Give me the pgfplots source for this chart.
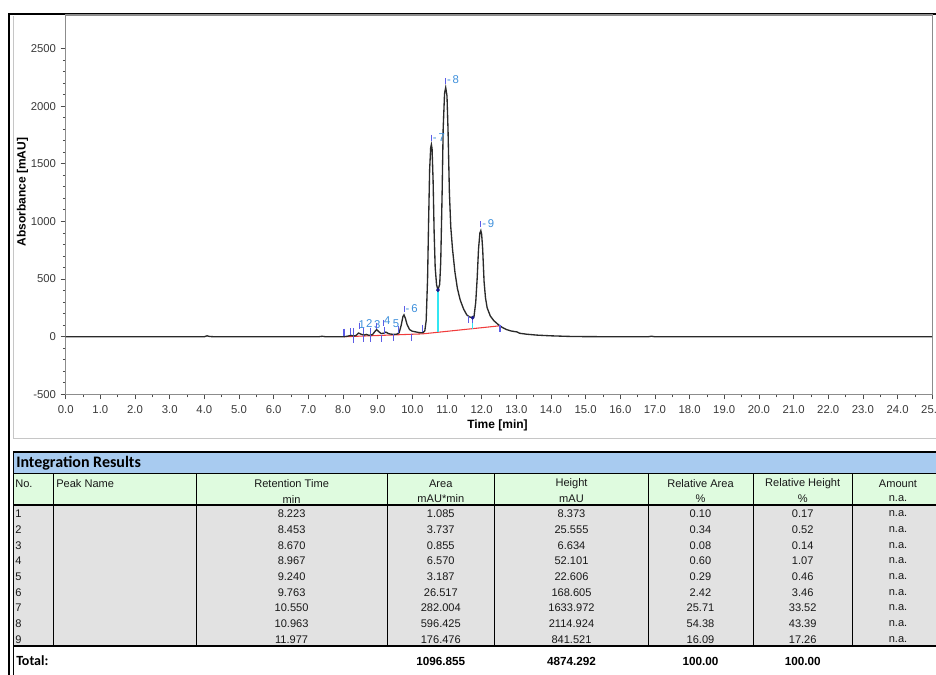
\documentclass[border=0pt]{standalone}
\usepackage{pgfplots}
\pgfplotsset{compat=1.18}
\usepackage{fontspec}
\setmainfont{Liberation Sans}
\newfontfamily\carlito{Carlito}
\definecolor{tracec}{HTML}{2A2A2A}
\definecolor{lblue}{HTML}{3D8FDB}
\definecolor{mviolet}{HTML}{5C5CE6}
\definecolor{basered}{HTML}{F03C3C}
\definecolor{cyanl}{HTML}{33E6F2}
\definecolor{navyd}{HTML}{1A1A8C}
\definecolor{bandblue}{HTML}{A8CBF0}
\definecolor{hdrgreen}{HTML}{DFFBDF}
\definecolor{rowgray}{HTML}{E2E2E2}
\definecolor{axgray}{HTML}{8C8C8C}
\definecolor{ticktext}{HTML}{3A3A3A}
\begin{document}
\begin{tikzpicture}
\useasboundingbox (0pt,0pt) rectangle (702pt,-506.25pt);
\begin{scope}[x=0.75pt,y=-0.75pt]
% outer frames
\draw[gray!45, line width=0.75pt] (13.3,16) -- (13.3,438) -- (940,438);
\draw[black, line width=1.5pt] (8.5,676) -- (8.5,13.5) -- (940,13.5);
% axis labels
\node[font=\bfseries\fontsize{9}{10}\selectfont, rotate=90] at (22.5,192) {Absorbance [mAU]};
\node[font=\bfseries\fontsize{9}{10}\selectfont] at (497.5,425) {Time [min]};
\end{scope}
\begin{axis}[
  at={(49.275pt,-295.8pt)}, anchor=south west,
  scale only axis, width=649.9pt, height=284.55pt,
  xmin=0, xmax=25, ymin=-500, ymax=2790,
  axis line style={axgray, line width=0.9pt},
  tick pos=left, tick align=outside,
  major tick length=3.75pt, minor tick length=2.2pt,
  tick style={black!70, line width=0.6pt},
  xtick={0,1,...,25}, minor x tick num=1,
  xticklabels={0.0,1.0,2.0,3.0,4.0,5.0,6.0,7.0,8.0,9.0,10.0,11.0,12.0,13.0,14.0,15.0,16.0,17.0,18.0,19.0,20.0,21.0,22.0,23.0,24.0,25.0},
  ytick={-500,0,500,1000,1500,2000,2500}, minor y tick num=4,
  yticklabels={-500,0,500,1000,1500,2000,2500},
  ticklabel style={font=\fontsize{8.5}{10}\selectfont, text=ticktext},
  xticklabel style={yshift=-1pt},
  clip=true,
]
% baseline (red)
\addplot[basered, line width=0.8pt] coordinates {(8.03,0) (10.3,25) (12.53,95)};
% drop lines
\addplot[cyanl, line width=1pt] coordinates {(10.74,39) (10.74,405)};
\addplot[cyanl, line width=1pt] coordinates {(11.74,70) (11.74,165)};
% chromatogram
\addplot[tracec, line width=1pt] coordinates {
(0,0) (4.0,0) (4.08,8) (4.15,2) (4.3,0) (7.3,0) (7.4,4) (7.5,0) (8.0,0)
(8.1,3) (8.18,8) (8.23,12) (8.3,6) (8.37,10) (8.45,32) (8.52,22) (8.6,14)
(8.67,20) (8.75,12) (8.85,18) (8.92,45) (8.97,62) (9.03,45) (9.1,28)
(9.17,30) (9.24,40) (9.32,26) (9.45,20) (9.55,22) (9.62,35) (9.68,100)
(9.73,175) (9.76,190) (9.8,160) (9.85,105) (9.92,62) (10.0,48) (10.1,42)
(10.2,36) (10.3,34) (10.36,50) (10.40,140) (10.44,500) (10.47,1000)
(10.50,1450) (10.53,1640) (10.55,1667) (10.57,1630) (10.60,1350)
(10.63,900) (10.66,600) (10.70,450) (10.74,405) (10.79,455) (10.82,650)
(10.86,1245) (10.89,1800) (10.93,2110) (10.963,2161) (11.0,2090)
(11.03,1800) (11.07,1250) (11.11,950) (11.16,760) (11.23,560) (11.30,420)
(11.38,320) (11.48,240) (11.57,190) (11.65,172) (11.71,168) (11.74,165)
(11.78,175) (11.83,300) (11.87,500) (11.91,760) (11.95,900) (11.977,920)
(12.0,890) (12.03,760) (12.07,480) (12.11,340) (12.16,250) (12.25,180)
(12.35,140) (12.48,105) (12.6,80) (12.72,62) (12.85,50) (12.95,45)
(13.02,42) (13.1,30) (13.3,22) (13.6,14) (14.0,8) (14.5,3) (15.0,1)
(16.0,0) (16.8,0) (16.9,4) (17.0,0) (25,0)};
% peak delimiters
\addplot[only marks, mark=|, mviolet, mark size=2.6pt, mark options={line width=0.8pt}] coordinates {
(8.03,40) (8.22,45) (8.30,45) (8.59,50) (8.80,50) (9.21,55) (9.60,60) (10.30,75) (11.62,150) (11.74,150)
(8.30,-20) (8.59,-17) (8.80,-15) (9.12,-13) (9.45,-10) (9.98,-5) (12.53,75)};
% peak apex markers
\addplot[only marks, mark=|, mviolet, mark size=2.3pt, mark options={line width=0.8pt}] coordinates {
(9.763,240) (10.55,1725) (10.963,2217) (11.977,975) (8.47,95) (8.98,95) (9.18,120)};
% valley dots
\addplot[only marks, mark=*, navyd, mark size=1.2pt] coordinates {(10.74,405) (11.74,165)};
% peak labels
\begin{scope}[every node/.style={text=lblue, font=\fontsize{8.5}{10}\selectfont, inner sep=0pt}]
\node[anchor=west] at (axis cs:9.80,245) {-\,6};
\node[anchor=west] at (axis cs:10.585,1727) {-\,7};
\node[anchor=west] at (axis cs:10.995,2226) {-\,8};
\node[anchor=west] at (axis cs:12.01,977) {-\,9};
\node at (axis cs:8.54,101) {1};
\node at (axis cs:8.76,116) {2};
\node at (axis cs:8.99,102) {3};
\node at (axis cs:9.28,136) {4};
\node at (axis cs:9.53,116) {5};
\end{scope}
\end{axis}
\begin{scope}[x=0.75pt,y=-0.75pt]
% table backgrounds
\fill[bandblue] (13.3,452) rectangle (960,473.5);
\fill[hdrgreen] (13.3,473.5) rectangle (960,505);
\fill[rowgray] (13.3,505) rectangle (960,646);
\draw[black, line width=0.9pt] (13.3,452) -- (960,452);
\draw[black, line width=0.7pt] (13.3,473.5) -- (960,473.5);
\draw[black, line width=1pt] (13.3,505) -- (960,505);
\draw[black, line width=0.8pt] (13.3,646) -- (960,646);
\draw[black, line width=0.8pt] (13.3,452) -- (13.3,676);
\foreach \x in {53.3,196,387.3,494.3,648.7,753.3,852.7}
  \draw[black, line width=0.7pt] (\x,473.5) -- (\x,646);
\node[anchor=west, font=\carlito\bfseries\fontsize{12}{14}\selectfont, inner sep=0pt] at (16,463.5) {Integration Results};
\begin{scope}[every node/.style={font=\fontsize{8.3}{9.6}\selectfont, inner sep=0pt, text=black!90}]
\node[anchor=west] at (15,483.5) {No.};
\node[anchor=west] at (56,483.5) {Peak Name};
\node at (291.6,483.5) {Retention Time};
\node at (291.6,499) {min};
\node at (440.8,483.5) {Area};
\node at (440.8,499) {mAU*min};
\node at (571.5,483.5) {Height};
\node at (571.5,499) {mAU};
\node at (700.5,483.5) {Relative Area};
\node at (700.5,499) {\%};
\node at (802.7,483.5) {Relative Height};
\node at (802.7,499) {\%};
\node at (898,483.5) {Amount};
\node at (898,499) {n.a.};
\foreach \n/\rt/\ar/\h/\ra/\rh in {
 1/8.223/1.085/8.373/0.10/0.17,
 2/8.453/3.737/25.555/0.34/0.52,
 3/8.670/0.855/6.634/0.08/0.14,
 4/8.967/6.570/52.101/0.60/1.07,
 5/9.240/3.187/22.606/0.29/0.46,
 6/9.763/26.517/168.605/2.42/3.46,
 7/10.550/282.004/1633.972/25.71/33.52,
 8/10.963/596.425/2114.924/54.38/43.39,
 9/11.977/176.476/841.521/16.09/17.26}{
  \pgfmathsetmacro\yy{514+15.67*(\n-1)}
  \node[anchor=west] at (15,\yy) {\n};
  \node at (291.6,\yy) {\rt};
  \node at (440.8,\yy) {\ar};
  \node at (571.5,\yy) {\h};
  \node at (700.5,\yy) {\ra};
  \node at (802.7,\yy) {\rh};
  \node at (898,\yy) {n.a.};
}
\end{scope}
\node[anchor=west, font=\carlito\bfseries\fontsize{10.5}{12}\selectfont, inner sep=0pt] at (16,661) {Total:};
\begin{scope}[every node/.style={font=\bfseries\fontsize{8.8}{10}\selectfont, inner sep=0pt}]
\node at (440.8,661) {1096.855};
\node at (571.5,661) {4874.292};
\node at (700.5,661) {100.00};
\node at (802.7,661) {100.00};
\end{scope}
\end{scope}
\end{tikzpicture}
\end{document}
